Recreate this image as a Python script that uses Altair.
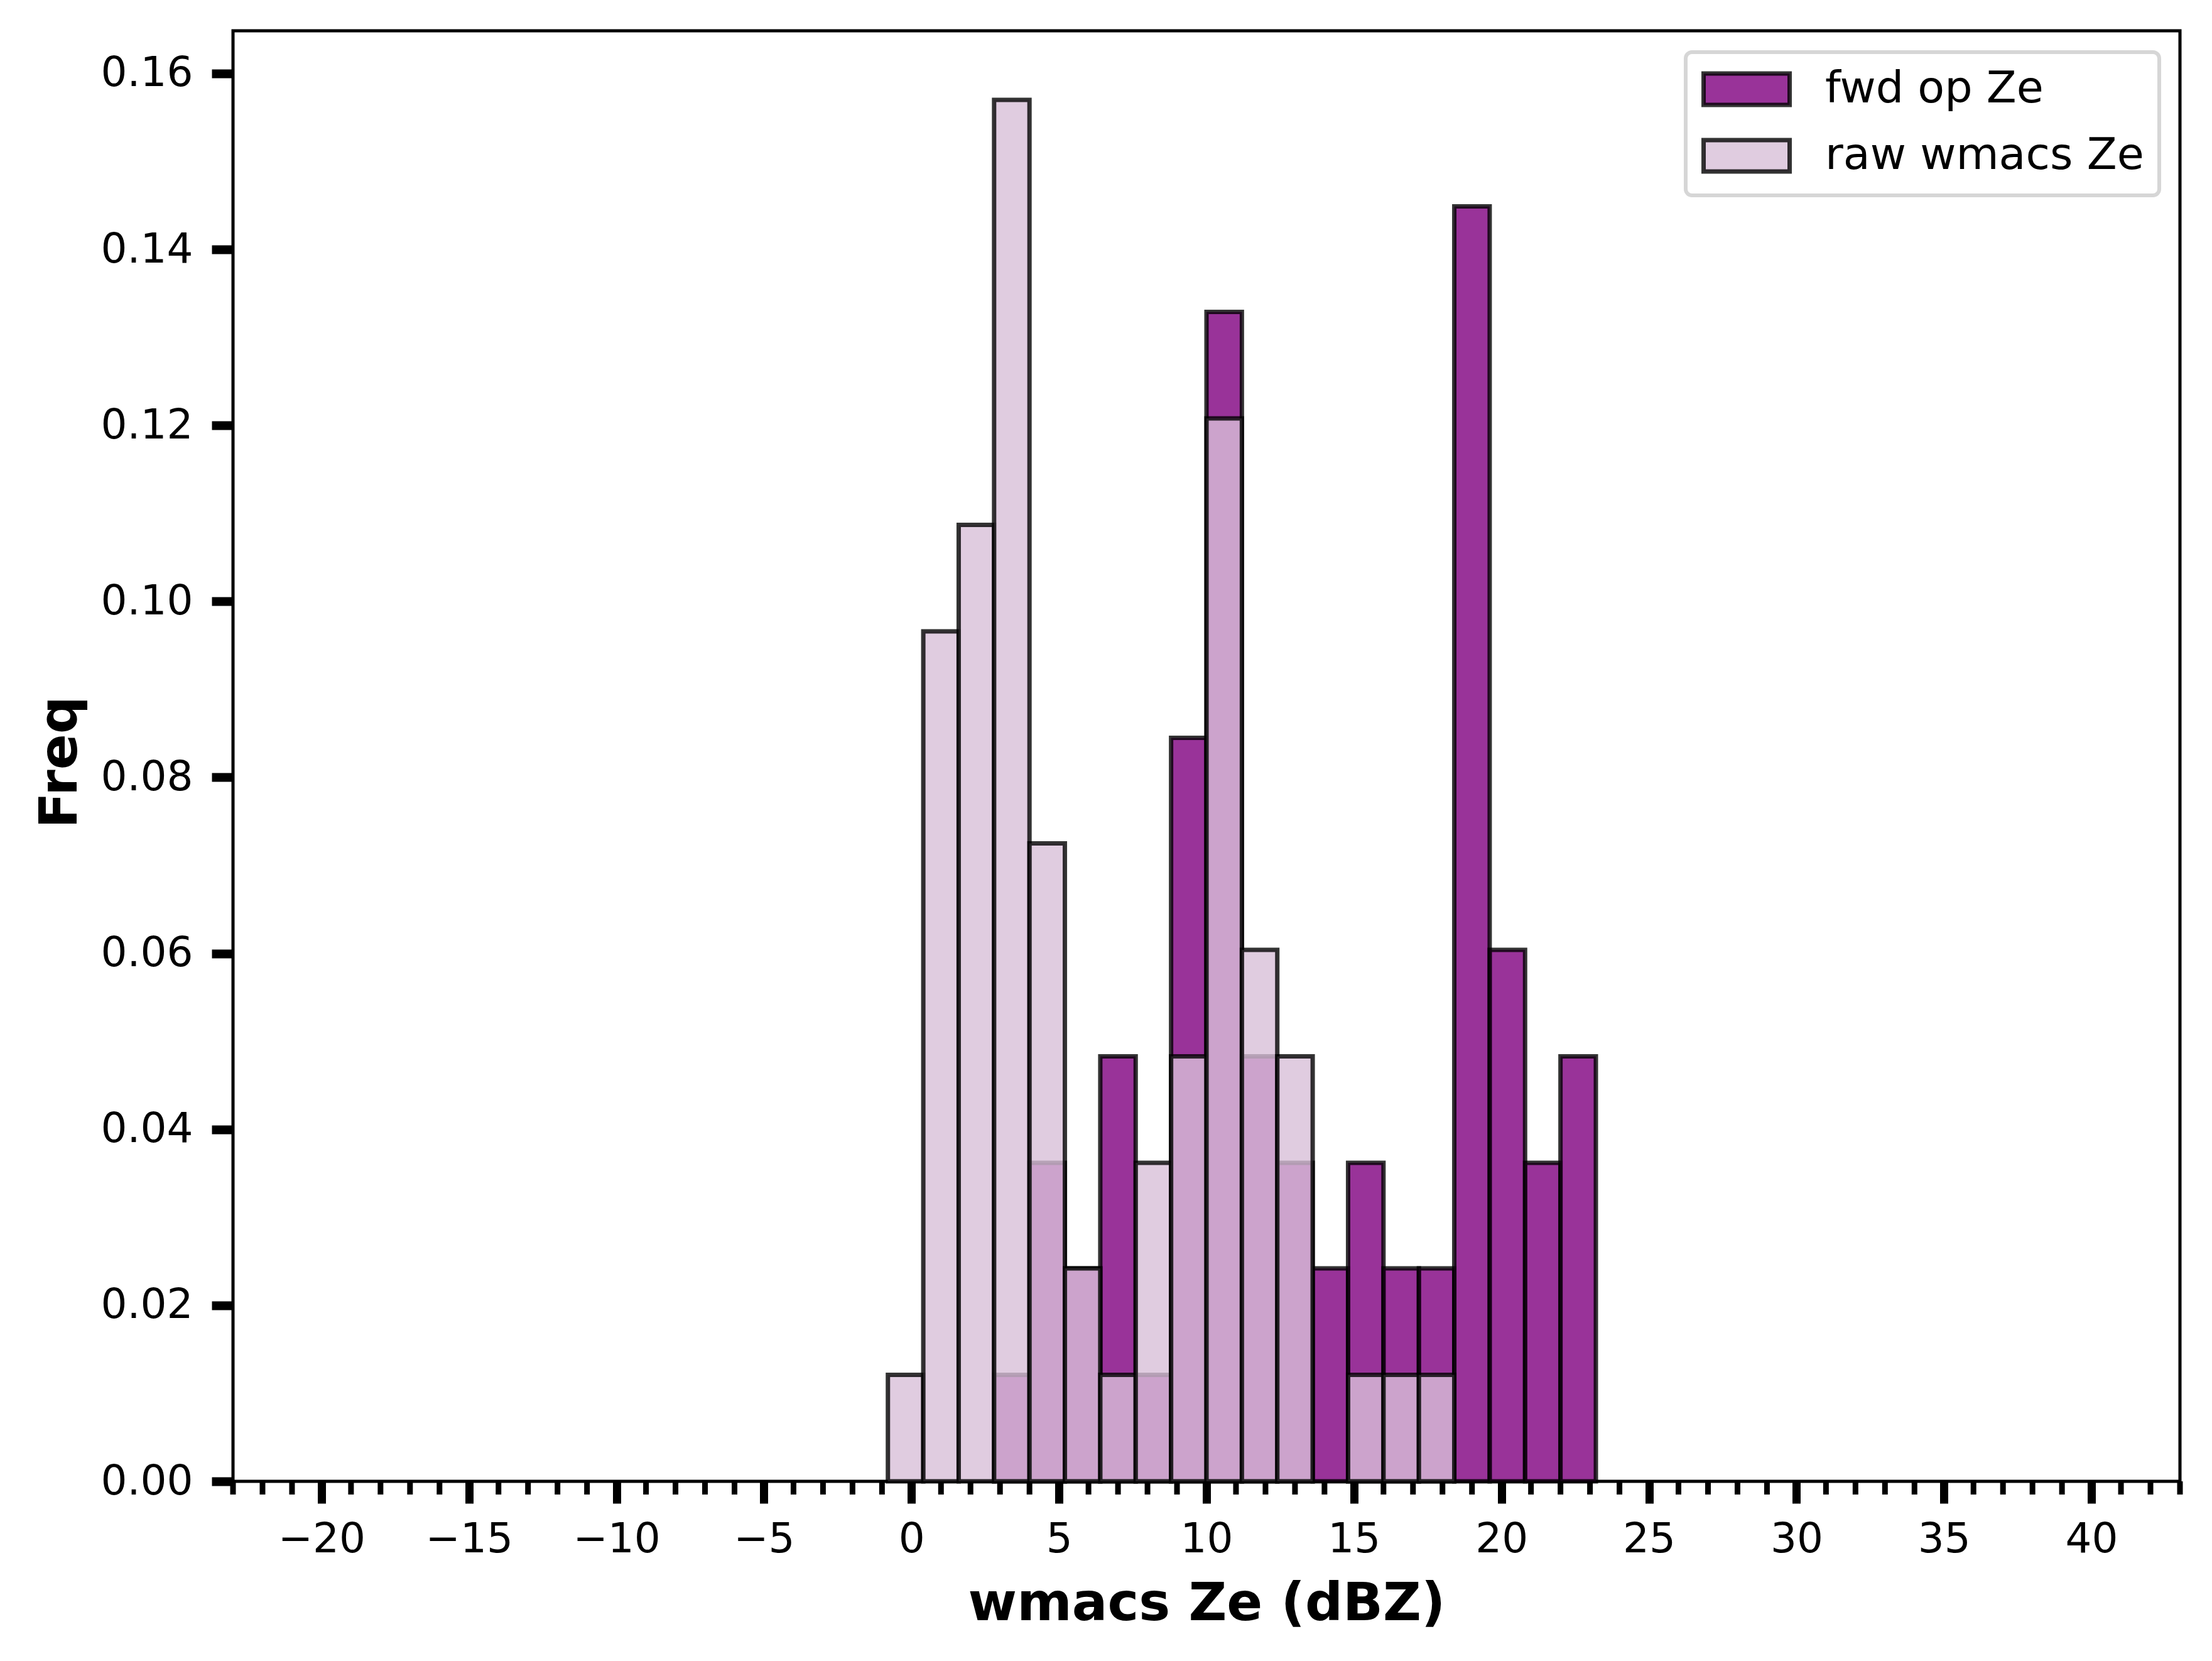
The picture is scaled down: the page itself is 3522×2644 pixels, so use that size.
import altair as alt
import pandas as pd

# ---- data (density-normalised histograms) ----
bin_left = [-0.8, 0.4, 1.6, 2.8, 4.0, 5.2, 6.4, 7.6, 8.8, 10.0,
            11.2, 12.4, 13.6, 14.8, 16.0, 17.2, 18.4, 19.6, 20.8, 22.0]
bin_right = [0.4, 1.6, 2.8, 4.0, 5.2, 6.4, 7.6, 8.8, 10.0, 11.2,
             12.4, 13.6, 14.8, 16.0, 17.2, 18.4, 19.6, 20.8, 22.0, 23.2]
fwd_freq = [0.0, 0.0, 0.0, 0.0121, 0.0362, 0.0242, 0.0483, 0.0121, 0.0845, 0.1329,
            0.0483, 0.0362, 0.0242, 0.0362, 0.0242, 0.0242, 0.1449, 0.0604, 0.0362, 0.0483]
raw_freq = [0.0121, 0.0966, 0.1087, 0.1570, 0.0725, 0.0242, 0.0121, 0.0362, 0.0483, 0.1208,
            0.0604, 0.0483, 0.0, 0.0121, 0.0121, 0.0121, 0.0, 0.0, 0.0, 0.0]
series_names = ["fwd op Ze", "raw wmacs Ze"]
series_colors = ["rgba(128,0,128,0.8)", "rgba(216,191,216,0.8)"]
x_major = [-20, -15, -10, -5, 0, 5, 10, 15, 20, 25, 30, 35, 40]
x_minor = [v for v in range(-23, 44) if v % 5 != 0]
y_ticks = [0.0, 0.02, 0.04, 0.06, 0.08, 0.10, 0.12, 0.14, 0.16]

fwd_df = pd.DataFrame({"lo": bin_left, "hi": bin_right, "freq": fwd_freq,
                       "series": series_names[0]})
raw_df = pd.DataFrame({"lo": bin_left, "hi": bin_right, "freq": raw_freq,
                       "series": series_names[1]})
fwd_df = fwd_df[fwd_df.freq > 0]
raw_df = raw_df[raw_df.freq > 0]
minor_df = pd.DataFrame({"lo": x_minor})

W, H = 3100, 2309
FONT = "DejaVu Sans"

x_scale = alt.Scale(domain=[-23, 43], nice=False, zero=False)
y_scale = alt.Scale(domain=[0, 0.16485], nice=False)

x_axis = alt.Axis(values=x_major, title="wmacs Ze (dBZ)", tickSize=35, tickWidth=13,
                  tickColor="black", domain=False, grid=False, labelFontSize=66,
                  labelFont=FONT, labelColor="black", labelPadding=25,
                  titleFont=FONT, titleFontSize=84, titleFontWeight="bold",
                  titleColor="black", titleY=220, titleBaseline="alphabetic",
                  labelFlush=False, labelOverlap=False, format="d")
y_axis = alt.Axis(values=y_ticks, format=".2f", title="Freq", tickSize=34, tickWidth=14,
                  tickColor="black", domain=False, grid=False, labelFontSize=66,
                  labelFont=FONT, labelColor="black", labelPadding=30,
                  titleFont=FONT, titleFontSize=84, titleFontWeight="bold",
                  titleColor="black", titleX=-250, titleY=1164, titleAngle=270,
                  titleBaseline="alphabetic", titleAlign="center",
                  labelFlush=False, labelOverlap=False)

fill_enc = alt.Fill(
    "series:N",
    scale=alt.Scale(domain=series_names, range=series_colors),
    legend=alt.Legend(
        orient="none", legendX=2313, legendY=34, title=None,
        padding=24, strokeColor="#d6d6d6", cornerRadius=10,
        fillColor="rgba(255,255,255,0.8)",
        labelFont=FONT, labelFontSize=70, labelColor="black", labelLimit=0,
        symbolType="M-2.74,-1H2.74V1H-2.74Z", symbolSize=2500,
        symbolStrokeWidth=7, symbolStrokeColor="rgba(0,0,0,0.8)",
        symbolOffset=38, labelOffset=90,
    ),
)

def bars(df):
    return alt.Chart(df).mark_bar(
        stroke="rgba(0,0,0,0.8)", strokeWidth=7, cornerRadius=0
    ).encode(
        x=alt.X("lo:Q", scale=x_scale, axis=x_axis),
        x2="hi:Q",
        y=alt.Y("freq:Q", scale=y_scale, axis=y_axis, stack=None),
        y2=alt.datum(0),
        fill=fill_enc,
    )

minor = alt.Chart(minor_df).mark_rule(color="black", strokeWidth=9).encode(
    x=alt.X("lo:Q", scale=x_scale, axis=x_axis),
    y=alt.value(H),
    y2=alt.value(H + 21),
)

chart = alt.layer(bars(fwd_df), bars(raw_df), minor).properties(
    width=W, height=H,
    autosize=alt.AutoSizeParams(type="none"),
    padding={"left": 363, "top": 41, "right": 43, "bottom": 278},
).configure(
    font=FONT, background="white"
).configure_view(
    stroke="black", strokeWidth=5
).configure_legend(
    strokeWidth=6, rowPadding=28, labelLimit=0
)

chart.save("out.html", embed_options={"renderer": "svg", "actions": False})
